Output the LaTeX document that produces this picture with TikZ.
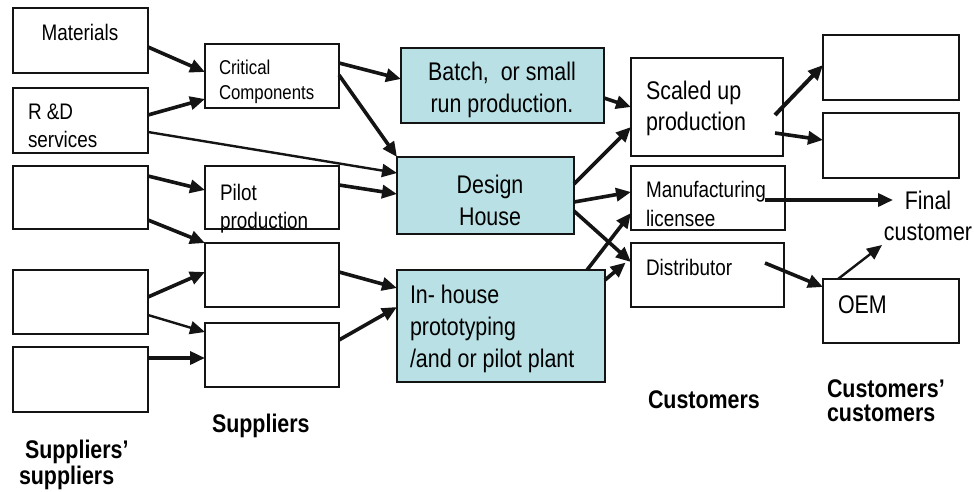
\documentclass[tikz,border=0pt]{standalone}
\usepackage{fontspec}
\setmainfont{Liberation Sans}[FakeStretch=0.84]
\usetikzlibrary{arrows.meta}
\definecolor{linec}{RGB}{20,20,20}
\definecolor{cyanfill}{RGB}{185,224,228}
\newcommand{\mlL}[1]{\begin{tabular}[t]{@{}l@{}}#1\end{tabular}}
\newcommand{\mlC}[1]{\begin{tabular}[t]{@{}c@{}}#1\end{tabular}}
\begin{document}
\begin{tikzpicture}[x=1pt,y=-1pt,
  bx/.style 2 args={draw=linec,line width=2.8pt,inner sep=0pt,outer sep=0pt,
    minimum width=#1pt,minimum height=#2pt},
  cbx/.style 2 args={bx={#1}{#2},fill=cyanfill},
  sm/.style={inner sep=0pt,outer sep=0pt,anchor=base west,font=\fontsize{22.5}{28}\selectfont},
  smc/.style={sm,anchor=base},
  bg/.style={inner sep=0pt,outer sep=0pt,anchor=base west,font=\fontsize{25.5}{32}\selectfont},
  bgc/.style={bg,anchor=base},
  lab/.style={inner sep=0pt,outer sep=0pt,anchor=base west,font=\bfseries\fontsize{25.5}{23}\selectfont},
  conn/.style={draw=linec,line width=3.6pt,-{Triangle[length=15pt,width=13pt]}},
  connt/.style={conn,line width=2.4pt}]
\useasboundingbox (0,0) rectangle (974,491);
% boxes
\node[bx={135}{65}] (mat) at (80.5,40.5) {};
\node[bx={135}{65}] (rd) at (80.5,120.5) {};
\node[bx={135}{63}] (s3) at (80.5,197.5) {};
\node[bx={135}{64}] (s4) at (80.5,302) {};
\node[bx={135}{65}] (s5) at (80.5,379.5) {};
\node[bx={134}{64}] (cc) at (272,76) {};
\node[bx={134}{63}] (pil) at (272,197.5) {};
\node[bx={134}{64}] (sa) at (272,275) {};
\node[bx={134}{64}] (sb) at (272,355) {};
\node[cbx={203}{75}] (batch) at (502.5,85.5) {};
\node[cbx={177}{77}] (dh) at (485.5,195.5) {};
\node[cbx={208}{112}] (inh) at (501,326) {};
\node[bx={152}{98}] (scal) at (707,107) {};
\node[bx={154}{64}] (man) at (708,198) {};
\node[bx={153}{64}] (dist) at (707.5,275) {};
\node[bx={136}{65}] (c1) at (891,67.5) {};
\node[bx={136}{65}] (c2) at (891,145.5) {};
\node[bx={136}{64}] (oem) at (891,311) {};
% texts
\node[smc] (matt) at (80,40) {Materials};
\node[sm] (rdt) at (28,119) {\mlL{R \&D\\services}};
\node[sm,font=\fontsize{20}{25}\selectfont] (cct) at (219,74) {\mlL{Critical\\Components}};
\node[sm] (pilt) at (220,200) {\mlL{Pilot\\production}};
\node[bgc] (batcht) at (502,80) {\mlC{Batch,\ \ or small\\run production.}};
\node[bgc] (dht) at (490,193) {\mlC{Design\\House}};
\node[bg,font=\fontsize{25.5}{31}\selectfont] (scalt) at (646,99) {\mlL{Scaled up\\production}};
\node[sm,font=\fontsize{22.5}{29}\selectfont] (mant) at (646,197) {\mlL{Manufacturing\\licensee}};
\node[sm] (distt) at (646,275) {Distributor};
\node[bg] (inht) at (410,303) {\mlL{In- house\\prototyping\\/and or pilot plant}};
\node[bg] (oemt) at (838,313) {OEM};
\node[bgc,font=\fontsize{25.5}{31}\selectfont] (fin) at (928,209) {\mlC{Final\\customer}};
\node[lab] (custl) at (648,408) {Customers};
\node[lab] (ccustl) at (827,397) {\mlL{Customers’\\[1pt]customers}};
\node[lab] (supl) at (212,432) {Suppliers};
\node[lab] (ssupl) at (19,458) {\mlL{\hspace{6pt}Suppliers’\\[1pt]suppliers}};
\coordinate (fintip) at (893,200);
\coordinate (fintipb) at (882,245);
% connectors
\draw[conn] (mat.east |- 0,47) -- (cc.west |- 0,72);
\draw[conn] (rd.east |- 0,115) -- (cc.west |- 0,99);
\draw[connt] (rd.east |- 0,132) -- (dh.west |- 0,173);
\draw[conn] (cc.east |- 0,63) -- (batch.west |- 0,79);
\draw[conn] (cc.east |- 0,75) -- (dh.north west);
\draw[conn] (s3.east |- 0,176) -- (pil.west |- 0,190);
\draw[conn] (s3.east |- 0,220) -- (sa.north west);
\draw[conn] (pil.east |- 0,185) -- (dh.west |- 0,194);
\draw[conn] (s4.east |- 0,297) -- (sa.west |- 0,272);
\draw[connt] (s4.east |- 0,315) -- (sb.west |- 0,332);
\draw[conn] (s5.east |- 0,358) -- (sb.west |- 0,358);
\draw[conn] (sa.east |- 0,272) -- (inh.west |- 0,288);
\draw[conn] (sb.east |- 0,340) -- (inh.west |- 0,307);
\draw[conn] (batch.east |- 0,98) -- (scal.west |- 0,107);
\draw[conn] (dh.east |- 0,184) -- (scal.west |- 0,127);
\draw[conn] (dh.east |- 0,202) -- (man.west |- 0,192);
\draw[conn] (dh.east |- 0,211) -- (dist.west |- 0,262);
\draw[conn] ([xshift=-18pt]inh.north east) -- (man.west |- 0,213);
\draw[conn,shorten >=7pt] (inh.east |- 0,280) -- (dist.west |- 0,258);
\draw[conn,line width=4pt] ([xshift=-8pt,yshift=-8pt]scal.east) -- (c1.west |- 0,65);
\draw[conn] ([xshift=-8pt,yshift=-26pt]scal.east) -- (c2.west |- 0,140);
\draw[conn] ([xshift=-20pt,yshift=-2pt]man.east) -- (fintip);
\draw[conn] ([xshift=-19pt,yshift=12pt]dist.east) -- (oem.west |- 0,287);
\draw[connt] ([xshift=15pt]oem.north west) -- (fintipb);
\end{tikzpicture}
\end{document}
